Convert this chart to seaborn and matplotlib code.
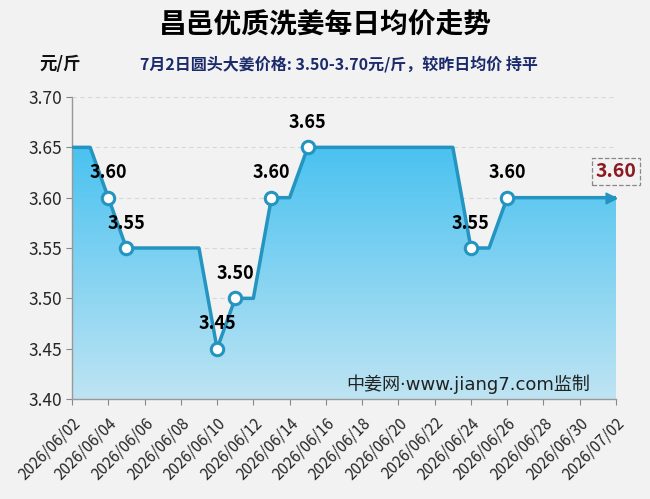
import numpy as np
import pandas as pd
import matplotlib
matplotlib.use("Agg")
import matplotlib.pyplot as plt
import matplotlib.dates as mdates
import seaborn as sns

dates = pd.date_range("2026-06-02", "2026-07-02", freq="D")
prices = [3.65, 3.65, 3.60, 3.55, 3.55, 3.55, 3.55, 3.55, 3.45, 3.50,
          3.50, 3.60, 3.60, 3.65, 3.65, 3.65, 3.65, 3.65, 3.65, 3.65,
          3.65, 3.65, 3.55, 3.55, 3.60, 3.60, 3.60, 3.60, 3.60, 3.60, 3.60]
title = "昌邑优质洗姜每日均价走势"
subtitle = "7月2日圆头大姜价格: 3.50-3.70元/斤，较昨日均价 持平"
unit = "元/斤"
watermark = "中姜网·www.jiang7.com监制"
yticks = [3.40, 3.45, 3.50, 3.55, 3.60, 3.65, 3.70]

df = pd.DataFrame({"date": dates, "price": prices})

sns.set_theme(style="white")
plt.rcParams['font.family'] = ['Noto Sans CJK SC', 'DejaVu Sans']

bg = "#F2F2F2"
line_c = "#2494C0"
fig = plt.figure(figsize=(6.5, 4.99), dpi=100, facecolor=bg)
ax = fig.add_axes([0.1108, 0.2004, 0.8369, 0.6052])
ax.set_facecolor(bg)

x = mdates.date2num(df["date"])
y = df["price"].values

# gradient fill under line
poly = ax.fill_between(x, y, 3.40, color="none", lw=0)
grad = np.linspace(0, 1, 256).reshape(-1, 1)
top = np.array([74, 194, 240]) / 255
bot = np.array([190, 228, 243]) / 255
img = top[None, None, :] * (1 - grad[:, :, None]) + bot[None, None, :] * grad[:, :, None]
im = ax.imshow(img, extent=[x[0], x[-1], 3.40, 3.65], aspect="auto", origin="upper", zorder=1)
path = poly.get_paths()[0]
im.set_clip_path(path, transform=ax.transData)

sns.lineplot(data=df, x="date", y="price", ax=ax, color=line_c, lw=2.5, zorder=3)

# markers at change points
chg = [i for i in range(1, len(y)) if y[i] != y[i - 1]]
ax.scatter(x[chg], y[chg], s=80, facecolor="white", edgecolor=line_c, linewidth=2.2, zorder=4)
for i in chg:
    ax.annotate(f"{y[i]:.2f}", (x[i], y[i]), xytext=(0, 18), textcoords="offset points",
                ha="center", va="center", fontsize=13, fontweight="bold", color="black", zorder=5)

ax.scatter([x[-1] - 0.25], [y[-1]], marker=">", s=60, color=line_c, zorder=4)
ax.annotate(f"{y[-1]:.2f}", (x[-1], y[-1]), xytext=(0, 19), textcoords="offset points",
            ha="center", va="center", fontsize=14, fontweight="bold", color="#8B1A22",
            bbox=dict(boxstyle="square,pad=0.2", fc=bg, ec="#888888", ls="--", lw=0.9), zorder=5)

ax.set_ylim(3.40, 3.70)
ax.set_xlim(x[0], x[-1])
ax.set_yticks(yticks)
ax.set_yticklabels([f"{v:.2f}" for v in yticks], fontsize=12.5)
ax.yaxis.grid(True, ls=(0, (4, 3)), color="#D8D8D8", lw=0.8)
ax.set_axisbelow(True)
ax.set_xticks(x[::2])
ax.xaxis.set_major_formatter(mdates.DateFormatter("%Y/%m/%d"))
plt.setp(ax.get_xticklabels(), rotation=45, ha="right", rotation_mode="anchor", fontsize=11)
ax.tick_params(axis="both", which="major", direction="out", length=4, width=0.8,
               color="#888888", bottom=True, left=True, pad=3)
ax.tick_params(axis="x", pad=7)
ax.set_xlabel("")
ax.set_ylabel("")
for s in ["top", "right"]:
    ax.spines[s].set_visible(False)
for s in ["left", "bottom"]:
    ax.spines[s].set_color("#999999")
    ax.spines[s].set_linewidth(1)

ax.text(0.952, 0.015, watermark, transform=ax.transAxes, ha="right", va="bottom",
        fontsize=13, color="#222222", zorder=6, family=['DejaVu Sans', 'Noto Sans CJK SC'])

fig.text(0.5, 0.95, title, ha="center", va="center", fontsize=20, fontweight="bold", color="black")
fig.text(0.092, 0.872, unit, ha="center", va="center", fontsize=12.5, fontweight="bold", color="#111111")
fig.text(0.522, 0.872, subtitle, ha="center", va="center", fontsize=11.5, fontweight="bold", color="#1B2A6B")

fig.savefig("out.png", dpi=100, facecolor=bg)
